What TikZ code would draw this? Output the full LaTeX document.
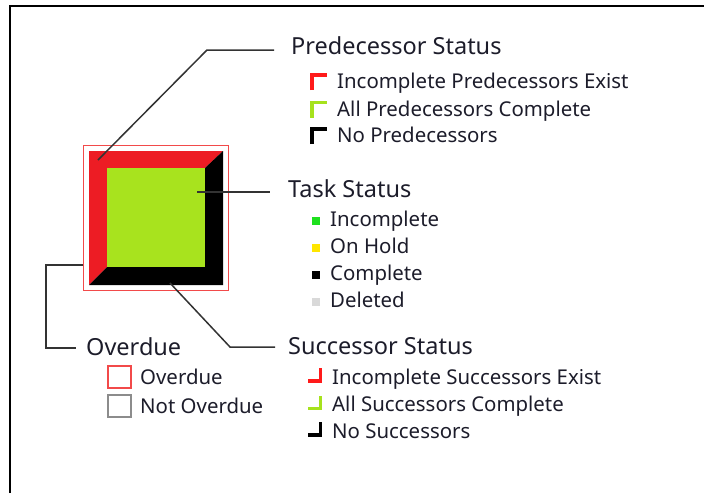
\documentclass[tikz,border=0pt]{standalone}
\usepackage{fontspec}
\setmainfont{Noto Sans}

\definecolor{barred}{HTML}{ED1C24}
\definecolor{bargreen}{HTML}{A8E31E}
\definecolor{odred}{HTML}{F24A4A}
\definecolor{odgray}{HTML}{8C8C8C}
\definecolor{legred}{HTML}{FF1A1A}
\definecolor{leggreen}{HTML}{A6E21D}
\definecolor{okgreen}{HTML}{1EE01E}
\definecolor{holdyellow}{HTML}{FFE600}
\definecolor{delgray}{HTML}{D9D9D9}
\definecolor{linkgray}{HTML}{333333}
\definecolor{txt}{HTML}{1C1C2A}

\tikzset{
  head/.style={anchor=base west, inner sep=0pt, text=txt, font=\fontsize{23.5}{26}\selectfont},
  item/.style={anchor=base west, inner sep=0pt, text=txt, font=\fontsize{20.4}{23}\selectfont},
  link/.style={linkgray, line width=1.5pt},
  flag/.style={line width=3.5pt},
  odbox/.style={line width=1.5pt}
}

\begin{document}
\begin{tikzpicture}[x=1pt,y=-1pt]
\useasboundingbox (0,0) rectangle (704,493);
% window frame
\draw[line width=2pt] (10,493) -- (10,6) -- (704,6);

% the bar: red predecessor edges, black successor edges, green face
\fill[barred] (89,151) -- (223,151) -- (205,168) -- (107,168) -- (107,267) -- (89,285) -- cycle;
\fill[black] (223,151) -- (223,285) -- (89,285) -- (107,267) -- (205,267) -- (205,168) -- cycle;
\fill[bargreen] (107,168) rectangle (205,267);
\draw[odred, odbox] (83.5,145.5) rectangle (228.5,290.5);

% headings (placed on their baselines)
\node[head] (pred) at (291,54.5) {Predecessor Status};
\node[head] (task) at (288,197) {Task Status};
\node[head] (succ) at (288,354) {Successor Status};
\node[head] (over) at (86,355) {Overdue};

% leader lines from the bar
\coordinate (predend) at (98,160);
\coordinate (predknee) at (207,50);
\coordinate (taskend) at (197,192);
\coordinate (succend) at (170,283);
\coordinate (succknee) at (230,347);
\coordinate (overend) at (83,265);
\coordinate (overknee) at (46,265);
\draw[link] (predend) -- (predknee) -- ([xshift=-17pt]predknee -| pred.west);
\draw[link] (taskend) -- ([xshift=-18pt]taskend -| task.west);
\draw[link] (succend) -- (succknee) -- ([xshift=-13pt]succknee -| succ.west);
\draw[link] (overend) -- (overknee) |- ([xshift=-10pt,yshift=7pt]over.base west);

% predecessor legend
\foreach \y/\c/\t [count=\i] in {88.5/legred/Incomplete Predecessors Exist,
    116/leggreen/All Predecessors Complete, 142.5/black/No Predecessors} {
  \draw[\c, flag] (312,\y+1.5) -- (312,\y-13.5) -- (327,\y-13.5);
  \node[item] (pred\i) at (337,\y) {\t};
}

% task legend
\foreach \y/\c/\t [count=\i] in {226.5/okgreen/Incomplete, 253/holdyellow/On Hold,
    280/black/Complete, 307/delgray/Deleted} {
  \fill[\c] (312,\y-9.5) rectangle (320,\y-1.5);
  \node[item] (task\i) at (330,\y) {\t};
}

% successor legend
\foreach \y/\c/\t [count=\i] in {384/legred/Incomplete Successors Exist,
    411.5/leggreen/All Successors Complete, 438/black/No Successors} {
  \draw[\c, flag] (308,\y-3) -- (320.5,\y-3) -- (320.5,\y-16);
  \node[item] (succ\i) at (332,\y) {\t};
}

% overdue legend
\draw[odred, odbox] (108,366) rectangle (131,388);
\node[item] (over1) at (140,384) {Overdue};
\draw[odgray, odbox] (108,395) rectangle (131,417);
\node[item] (over2) at (140,413) {Not Overdue};
\end{tikzpicture}
\end{document}
